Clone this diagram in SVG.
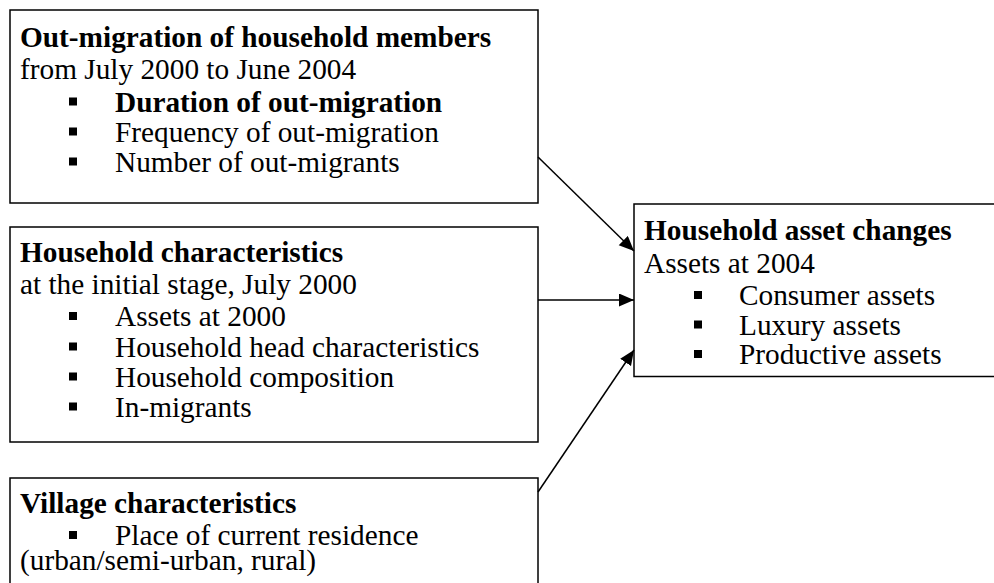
<svg xmlns="http://www.w3.org/2000/svg" width="994" height="583" viewBox="0 0 994 583">
<style>
.box{fill:#fff;stroke:#000;stroke-width:1.5}
text{font-family:"Liberation Serif","Times New Roman",serif;font-size:29.3px;fill:#000}
.b{font-weight:bold}
.bl{fill:#000}
.conn line{stroke:#000;stroke-width:1.5}
</style>
<defs>
<marker id="ah" markerUnits="userSpaceOnUse" markerWidth="16" markerHeight="14" refX="15" refY="6.5" orient="auto">
<path d="M0,0 L15,6.5 L0,13 z" fill="#000"/>
</marker>
</defs>
<rect width="994" height="583" fill="#fff"/>
<g id="node-outmigration">
<rect class="box" x="10" y="10" width="528" height="193"/>
<text class="b" x="20" y="46.5">Out-migration of household members</text>
<text x="20" y="79">from July 2000 to June 2004</text>
<rect class="bl" x="69" y="97.5" width="8" height="8"/>
<text class="b" x="115" y="111.5">Duration of out-migration</text>
<rect class="bl" x="69" y="127.5" width="8" height="8"/>
<text x="115" y="141.5">Frequency of out-migration</text>
<rect class="bl" x="69" y="157.5" width="8" height="8"/>
<text x="115" y="171.5">Number of out-migrants</text>
</g>
<g id="node-household">
<rect class="box" x="10" y="227" width="528" height="215"/>
<text class="b" x="20" y="262">Household characteristics</text>
<text x="20" y="294">at the initial stage, July 2000</text>
<rect class="bl" x="69" y="312" width="8" height="8"/>
<text x="115" y="326">Assets at 2000</text>
<rect class="bl" x="69" y="342.5" width="8" height="8"/>
<text x="115" y="356.5">Household head characteristics</text>
<rect class="bl" x="69" y="372.5" width="8" height="8"/>
<text x="115" y="386.5">Household composition</text>
<rect class="bl" x="69" y="402.5" width="8" height="8"/>
<text x="115" y="416.5">In-migrants</text>
</g>
<g id="node-village">
<rect class="box" x="10" y="478" width="528" height="125"/>
<text class="b" x="20" y="513">Village characteristics</text>
<rect class="bl" x="69" y="531" width="8" height="8"/>
<text x="115" y="545">Place of current residence</text>
<text x="20" y="570">(urban/semi-urban, rural)</text>
</g>
<g id="node-assets">
<rect class="box" x="634" y="204" width="380" height="172.5"/>
<text class="b" x="644" y="240">Household asset changes</text>
<text x="644" y="273">Assets at 2004</text>
<rect class="bl" x="694" y="291" width="8" height="8"/>
<text x="739" y="305">Consumer assets</text>
<rect class="bl" x="694" y="320.5" width="8" height="8"/>
<text x="739" y="334.5">Luxury assets</text>
<rect class="bl" x="694" y="350" width="8" height="8"/>
<text x="739" y="364">Productive assets</text>
</g>
<g id="connectors" class="conn">
<line x1="538" y1="157" x2="634" y2="251" marker-end="url(#ah)"/>
<line x1="538" y1="300" x2="634" y2="300" marker-end="url(#ah)"/>
<line x1="538" y1="492" x2="634" y2="350" marker-end="url(#ah)"/>
</g>
</svg>
